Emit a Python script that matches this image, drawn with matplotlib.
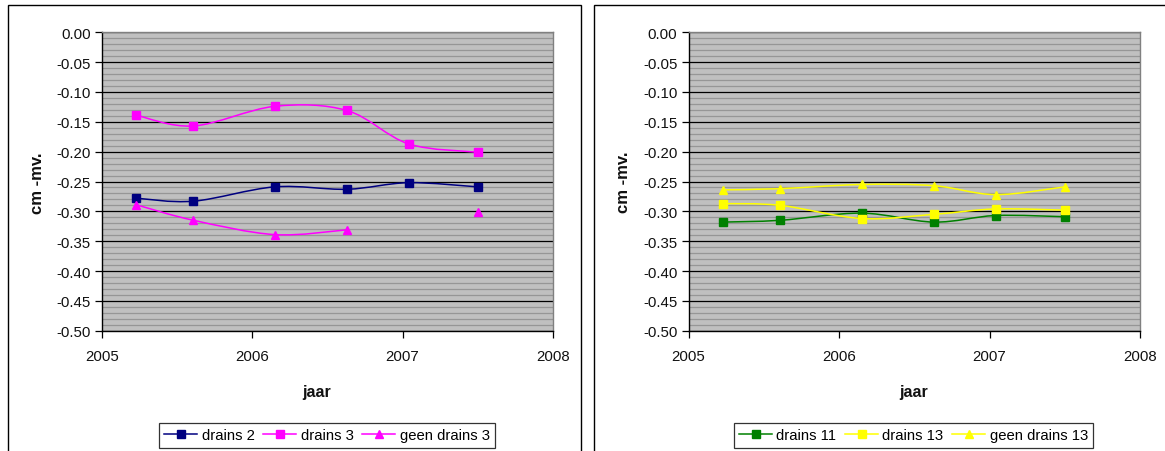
import numpy as np
import matplotlib
matplotlib.use("Agg")
import matplotlib.pyplot as plt
from matplotlib.path import Path
from matplotlib.patches import PathPatch, Rectangle
from matplotlib.lines import Line2D
from matplotlib.ticker import MultipleLocator, FuncFormatter

plt.rcParams['font.family'] = ['Liberation Sans', 'DejaVu Sans']
plt.rcParams['axes.unicode_minus'] = False

# measurement dates (decimal years)
years = [2005.23, 2005.61, 2006.15, 2006.63, 2007.04, 2007.50]

# groundwater level below surface
drains_2 = [-0.278, -0.283, -0.259, -0.263, -0.252, -0.259]
drains_3 = [-0.139, -0.157, -0.124, -0.131, -0.187, -0.201]
geen_drains_3 = [-0.289, -0.315, -0.339, -0.331, np.nan, -0.301]

drains_11 = [-0.318, -0.315, -0.303, -0.318, -0.307, -0.309]
drains_13 = [-0.287, -0.290, -0.312, -0.305, -0.296, -0.298]
geen_drains_13 = [-0.264, -0.262, -0.255, -0.257, -0.272, -0.259]

x_ticks = [2005, 2006, 2007, 2008]
x_label = "jaar"
y_label = "cm -mv."

W, H = 1165, 452
fig = plt.figure(figsize=(W / 100, H / 100), dpi=100)
fig.patch.set_facecolor("white")


def fx(px):
    return px / W


def fy(py):
    return 1 - py / H


def smooth_path(x, y):
    """Excel-style smoothed line: cubic Bezier segments (Catmull-Rom)."""
    pts = np.column_stack([x, y])
    n = len(pts)
    verts = [pts[0]]
    codes = [Path.MOVETO]
    for i in range(n - 1):
        p0 = pts[max(i - 1, 0)]
        p1 = pts[i]
        p2 = pts[i + 1]
        p3 = pts[min(i + 2, n - 1)]
        c1 = p1 + (p2 - p0) / 6.0
        c2 = p2 - (p3 - p1) / 6.0
        verts += [c1, c2, p2]
        codes += [Path.CURVE4] * 3
    return Path(verts, codes)


def marker_size(marker):
    return 5.3 if marker == "s" else 6.0


def draw_series(ax, x, y, color, marker, label):
    x = np.asarray(x, float)
    y = np.asarray(y, float)
    ok = ~np.isnan(y)
    # split into runs of consecutive valid points
    runs, cur = [], []
    for i in range(len(y)):
        if ok[i]:
            cur.append(i)
        else:
            if cur:
                runs.append(cur)
            cur = []
    if cur:
        runs.append(cur)
    for r in runs:
        if len(r) > 1:
            ax.add_patch(PathPatch(smooth_path(x[r], y[r]), facecolor="none",
                                   edgecolor=color, lw=1.1, zorder=3,
                                   capstyle="round", joinstyle="round"))
    ax.plot(x[ok], y[ok], ls="none", marker=marker, ms=marker_size(marker),
            mfc=color, mec=color, zorder=4)
    return Line2D([], [], color=color, lw=1.1, marker=marker,
                  ms=marker_size(marker), mfc=color, mec=color, label=label)


def make_panel(ax_px, series, ylab_xy, xlab_xy, legend_px):
    l, r, t, b = ax_px
    ax = fig.add_axes([fx(l), fy(b), fx(r - l), (b - t) / H])
    ax.set_facecolor("#c0c0c0")
    ax.set_xlim(2005, 2008)
    ax.set_ylim(-0.5, 0.0)
    ax.set_xticks(x_ticks)
    ax.xaxis.set_major_formatter(FuncFormatter(lambda v, p: f"{int(round(v))}"))
    ax.yaxis.set_major_locator(MultipleLocator(0.05))
    ax.yaxis.set_minor_locator(MultipleLocator(0.01))
    ax.yaxis.set_major_formatter(FuncFormatter(lambda v, p: f"{v:.2f}".replace("\u2212", "-")))
    ax.grid(which="minor", axis="y", color="#969696", lw=0.9, zorder=1)
    ax.grid(which="major", axis="y", color="black", lw=0.9, zorder=2)
    ax.set_axisbelow(True)
    ax.tick_params(axis="both", which="major", direction="out", length=5,
                   width=0.9, labelsize=10.8, color="black", labelcolor="#111111")
    ax.tick_params(axis="y", which="minor", length=0)
    ax.tick_params(axis="y", pad=3)
    ax.tick_params(axis="x", pad=8)
    for s in ("left", "bottom"):
        ax.spines[s].set_color("black")
        ax.spines[s].set_linewidth(1.0)
    for s in ("top", "right"):
        ax.spines[s].set_color("#808080")
        ax.spines[s].set_linewidth(1.0)
    handles = [draw_series(ax, years, vals, c, m, lab) for vals, c, m, lab in series]

    fig.text(fx(ylab_xy[0]), fy(ylab_xy[1]), y_label, rotation=90, ha="center",
             va="center", fontsize=12, fontweight="bold", color="#111111")
    fig.text(fx(xlab_xy[0]), fy(xlab_xy[1]), x_label, ha="center", va="center",
             fontsize=11.5, fontweight="bold", color="#111111")

    ll, lr, lt, lb = legend_px
    leg = fig.legend(handles=handles, loc="center",
                     bbox_to_anchor=(fx((ll + lr) / 2), fy((lt + lb) / 2)),
                     ncol=3, frameon=True, fancybox=False, fontsize=10.7,
                     handlelength=2.2, handletextpad=0.3, columnspacing=0.6,
                     borderpad=0.35, borderaxespad=0)
    leg.get_frame().set_edgecolor("black")
    leg.get_frame().set_linewidth(0.9)
    return ax


# outer chart frames
for left, right in ((8, 581), (594, 1175)):
    fig.patches.append(Rectangle((fx(left), fy(470)), fx(right - left), (470 - 6) / H,
                                 transform=fig.transFigure, facecolor="none",
                                 edgecolor="black", lw=1.0, zorder=0))

make_panel((101.7, 553, 33.3, 331.7),
           [(drains_2, "#000080", "s", "drains 2"),
            (drains_3, "#ff00ff", "s", "drains 3"),
            (geen_drains_3, "#ff00ff", "^", "geen drains 3")],
           (38, 183), (317, 393), (161, 493, 422, 451))

make_panel((688.6, 1140, 33.3, 331.7),
           [(drains_11, "#008000", "s", "drains 11"),
            (drains_13, "#ffff00", "s", "drains 13"),
            (geen_drains_13, "#ffff00", "^", "geen drains 13")],
           (624, 182), (914, 393), (736, 1091, 422, 451))

fig.savefig("out.png", dpi=100)
